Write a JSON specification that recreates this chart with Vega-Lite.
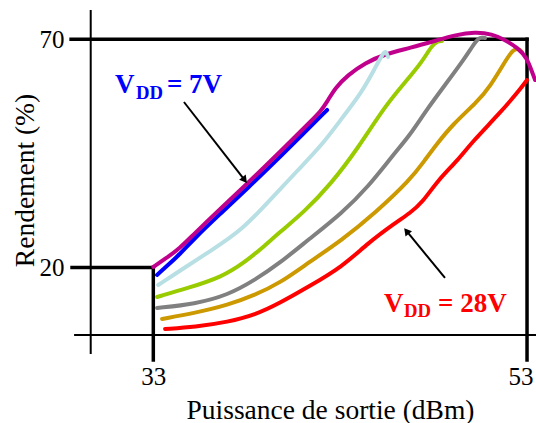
{
  "$schema": "https://vega.github.io/schema/vega-lite/v6.json",
  "width": 465,
  "height": 362,
  "autosize": {"type": "none"},
  "padding": {"left": 71, "top": 0, "right": 0, "bottom": 61},
  "background": "white",
  "config": {
    "view": {"stroke": null},
    "font": "Liberation Serif"
  },
  "datasets": {
    "curves": [
      {"serie": "VDD=28V", "p": 33.63, "r": 6.53}, {"serie": "VDD=28V", "p": 35.23, "r": 6.96},
      {"serie": "VDD=28V", "p": 37.00, "r": 8.06}, {"serie": "VDD=28V", "p": 38.44, "r": 9.59},
      {"serie": "VDD=28V", "p": 39.78, "r": 12.22}, {"serie": "VDD=28V", "p": 41.28, "r": 15.73},
      {"serie": "VDD=28V", "p": 43.10, "r": 20.11}, {"serie": "VDD=28V", "p": 44.49, "r": 25.37},
      {"serie": "VDD=28V", "p": 45.94, "r": 29.75}, {"serie": "VDD=28V", "p": 46.74, "r": 31.94},
      {"serie": "VDD=28V", "p": 47.38, "r": 34.13}, {"serie": "VDD=28V", "p": 48.24, "r": 39.17},
      {"serie": "VDD=28V", "p": 49.31, "r": 43.55}, {"serie": "VDD=28V", "p": 50.06, "r": 47.50},
      {"serie": "VDD=28V", "p": 51.45, "r": 53.41}, {"serie": "VDD=28V", "p": 52.52, "r": 58.45},
      {"serie": "VDD=28V", "p": 53.00, "r": 61.08},

      {"serie": "VDD5", "p": 33.47, "r": 8.72}, {"serie": "VDD5", "p": 35.23, "r": 10.03},
      {"serie": "VDD5", "p": 37.00, "r": 11.78}, {"serie": "VDD5", "p": 38.44, "r": 13.97},
      {"serie": "VDD5", "p": 39.78, "r": 16.60}, {"serie": "VDD5", "p": 41.28, "r": 20.99},
      {"serie": "VDD5", "p": 43.10, "r": 26.03}, {"serie": "VDD5", "p": 44.87, "r": 31.94},
      {"serie": "VDD5", "p": 46.74, "r": 39.17}, {"serie": "VDD5", "p": 47.54, "r": 43.55},
      {"serie": "VDD5", "p": 48.13, "r": 46.84}, {"serie": "VDD5", "p": 49.04, "r": 51.44},
      {"serie": "VDD5", "p": 50.27, "r": 56.04}, {"serie": "VDD5", "p": 51.02, "r": 59.55},
      {"serie": "VDD5", "p": 51.93, "r": 65.90}, {"serie": "VDD5", "p": 52.25, "r": 67.65},
      {"serie": "VDD5", "p": 52.52, "r": 68.09}, {"serie": "VDD5", "p": 52.73, "r": 67.21},

      {"serie": "VDD4", "p": 33.20, "r": 11.13}, {"serie": "VDD4", "p": 35.23, "r": 12.00},
      {"serie": "VDD4", "p": 37.00, "r": 13.97}, {"serie": "VDD4", "p": 38.44, "r": 17.26},
      {"serie": "VDD4", "p": 39.78, "r": 20.99}, {"serie": "VDD4", "p": 41.28, "r": 26.03},
      {"serie": "VDD4", "p": 43.10, "r": 31.94}, {"serie": "VDD4", "p": 44.49, "r": 37.64},
      {"serie": "VDD4", "p": 45.83, "r": 44.65}, {"serie": "VDD4", "p": 46.74, "r": 49.03},
      {"serie": "VDD4", "p": 47.54, "r": 54.07}, {"serie": "VDD4", "p": 48.61, "r": 59.99},
      {"serie": "VDD4", "p": 49.68, "r": 65.90}, {"serie": "VDD4", "p": 50.22, "r": 69.41},
      {"serie": "VDD4", "p": 50.49, "r": 70.50}, {"serie": "VDD4", "p": 50.75, "r": 70.28},

      {"serie": "VDD3", "p": 33.20, "r": 13.54}, {"serie": "VDD3", "p": 34.86, "r": 15.51},
      {"serie": "VDD3", "p": 36.68, "r": 17.92}, {"serie": "VDD3", "p": 37.91, "r": 21.21},
      {"serie": "VDD3", "p": 38.82, "r": 24.27}, {"serie": "VDD3", "p": 39.78, "r": 27.78},
      {"serie": "VDD3", "p": 41.07, "r": 32.16}, {"serie": "VDD3", "p": 42.51, "r": 38.30},
      {"serie": "VDD3", "p": 43.96, "r": 46.18}, {"serie": "VDD3", "p": 45.40, "r": 55.38},
      {"serie": "VDD3", "p": 46.58, "r": 61.08}, {"serie": "VDD3", "p": 47.38, "r": 65.03},
      {"serie": "VDD3", "p": 47.92, "r": 68.75}, {"serie": "VDD3", "p": 48.24, "r": 69.63},
      {"serie": "VDD3", "p": 48.45, "r": 69.63},

      {"serie": "VDD=7V", "p": 33.20, "r": 18.36}, {"serie": "VDD=7V", "p": 33.79, "r": 20.55},
      {"serie": "VDD=7V", "p": 34.43, "r": 22.96}, {"serie": "VDD=7V", "p": 35.12, "r": 26.03},
      {"serie": "VDD=7V", "p": 36.57, "r": 31.72}, {"serie": "VDD=7V", "p": 38.01, "r": 37.20},
      {"serie": "VDD=7V", "p": 40.05, "r": 45.31}, {"serie": "VDD=7V", "p": 41.12, "r": 49.69},
      {"serie": "VDD=7V", "p": 42.30, "r": 54.51},

      {"serie": "max", "p": 33.00, "r": 20.11}, {"serie": "max", "p": 33.63, "r": 21.86},
      {"serie": "max", "p": 34.43, "r": 24.27}, {"serie": "max", "p": 35.12, "r": 27.12},
      {"serie": "max", "p": 36.57, "r": 32.82}, {"serie": "max", "p": 38.01, "r": 38.30},
      {"serie": "max", "p": 40.05, "r": 46.40}, {"serie": "max", "p": 41.55, "r": 52.54},
      {"serie": "max", "p": 41.92, "r": 54.07}, {"serie": "max", "p": 42.30, "r": 56.26},
      {"serie": "max", "p": 42.72, "r": 59.33}, {"serie": "max", "p": 43.42, "r": 62.18},
      {"serie": "max", "p": 44.33, "r": 64.81}, {"serie": "max", "p": 45.40, "r": 66.78},
      {"serie": "max", "p": 46.74, "r": 68.09}, {"serie": "max", "p": 48.24, "r": 69.85},
      {"serie": "max", "p": 49.15, "r": 70.94}, {"serie": "max", "p": 50.22, "r": 71.60},
      {"serie": "max", "p": 51.13, "r": 71.16}, {"serie": "max", "p": 51.82, "r": 69.85},
      {"serie": "max", "p": 52.52, "r": 68.09}, {"serie": "max", "p": 53.00, "r": 65.90},
      {"serie": "max", "p": 53.27, "r": 62.83}, {"serie": "max", "p": 53.43, "r": 61.08},

      {"serie": "VDD2", "p": 33.26, "r": 16.17}, {"serie": "VDD2", "p": 34.32, "r": 19.01},
      {"serie": "VDD2", "p": 36.14, "r": 23.83}, {"serie": "VDD2", "p": 37.75, "r": 28.22},
      {"serie": "VDD2", "p": 39.25, "r": 34.79}, {"serie": "VDD2", "p": 40.69, "r": 41.14},
      {"serie": "VDD2", "p": 42.03, "r": 46.84}, {"serie": "VDD2", "p": 43.10, "r": 52.76},
      {"serie": "VDD2", "p": 44.17, "r": 58.45}, {"serie": "VDD2", "p": 44.87, "r": 63.71},
      {"serie": "VDD2", "p": 45.30, "r": 66.99}, {"serie": "VDD2", "p": 45.46, "r": 67.43},
      {"serie": "VDD2", "p": 45.56, "r": 66.12}
    ],
    "frame": [
      {"kind": "axes", "p": 29.65, "p2": 29.65, "r": 76.42, "r2": 1.05},
      {"kind": "axes", "p": 28.76, "p2": 53.48, "r": 5.21, "r2": 5.21},
      {"kind": "bounds", "p": 28.60, "p2": 53.00, "r": 70, "r2": 70},
      {"kind": "bounds", "p": 53.00, "p2": 53.00, "r": 70, "r2": -0.27},
      {"kind": "bounds", "p": 28.65, "p2": 33.00, "r": 20, "r2": 20},
      {"kind": "bounds", "p": 33.00, "p2": 33.00, "r": 20, "r2": -0.27}
    ],
    "notes": [
      {"serie": "VDD=7V", "part": "main", "t": "V", "p": 30.95, "r": 58.23},
      {"serie": "VDD=7V", "part": "sub", "t": "DD", "p": 32.07, "r": 56.81},
      {"serie": "VDD=7V", "part": "main", "t": "= 7V", "p": 33.73, "r": 58.23},
      {"serie": "VDD=28V", "part": "main", "t": "V", "p": 45.35, "r": 10.32},
      {"serie": "VDD=28V", "part": "sub", "t": "DD", "p": 46.42, "r": 9.09},
      {"serie": "VDD=28V", "part": "main", "t": "= 28V", "p": 48.24, "r": 10.32}
    ],
    "arrows": [
      {"serie": "VDD=7V", "p": 34.64, "r": 56.26, "p2": 37.85, "r2": 39.37},
      {"serie": "VDD=28V", "p": 48.61, "r": 17.70, "p2": 46.59, "r2": 27.80}
    ]
  },
  "encoding": {
    "x": {
      "field": "p",
      "type": "quantitative",
      "scale": {"domain": [28.595, 53.48], "nice": false, "zero": false},
      "axis": {
        "values": [33, 53],
        "domain": false,
        "ticks": false,
        "grid": false,
        "labelPadding": 2,
        "labelFontSize": 25,
        "labelColor": "black",
        "labelFlush": 10,
        "labelFlushOffset": 6,
        "title": "Puissance de sortie (dBm)",
        "titleFontSize": 27.5,
        "titleFontWeight": "normal",
        "titleColor": "black",
        "titleX": 259,
        "titleY": 56,
        "titleAlign": "center",
        "titleBaseline": "alphabetic"
      }
    },
    "y": {
      "field": "r",
      "type": "quantitative",
      "scale": {"domain": [-0.71, 78.61], "nice": false, "zero": false},
      "axis": {
        "values": [20, 70],
        "domain": false,
        "ticks": false,
        "grid": false,
        "labelPadding": 7,
        "labelFontSize": 25,
        "labelColor": "black",
        "title": "Rendement (%)",
        "titleFontSize": 27.5,
        "titleFontWeight": "normal",
        "titleColor": "black",
        "titleAngle": 270,
        "titleX": -38,
        "titleY": 180,
        "titleAlign": "center",
        "titleBaseline": "alphabetic"
      }
    }
  },
  "layer": [
    {
      "data": {"name": "frame"},
      "transform": [{"filter": "datum.kind === 'axes'"}],
      "mark": {"type": "rule", "color": "black", "strokeWidth": 2},
      "encoding": {"x2": {"field": "p2"}, "y2": {"field": "r2"}}
    },
    {
      "data": {"name": "frame"},
      "transform": [{"filter": "datum.kind === 'bounds'"}],
      "mark": {"type": "rule", "color": "black", "strokeWidth": 3.5, "strokeCap": "square"},
      "encoding": {"x2": {"field": "p2"}, "y2": {"field": "r2"}}
    },
    {
      "data": {"name": "curves"},
      "mark": {"type": "line", "strokeWidth": 4, "interpolate": "basis", "strokeCap": "round", "strokeJoin": "round"},
      "encoding": {
        "color": {
          "field": "serie",
          "type": "nominal",
          "scale": {
            "domain": ["VDD=28V", "VDD5", "VDD4", "VDD3", "VDD=7V", "max", "VDD2"],
            "range": ["#ff0000", "#cc9900", "#808080", "#99cc00", "#0000ff", "#c0008c", "#b7dfe4"]
          },
          "legend": null
        }
      }
    },
    {
      "data": {"name": "arrows"},
      "mark": {"type": "rule", "color": "black", "strokeWidth": 2},
      "encoding": {"x2": {"field": "p2"}, "y2": {"field": "r2"}}
    },
    {
      "data": {"name": "arrows"},
      "transform": [{"filter": "datum.serie === 'VDD=7V'"}],
      "mark": {"type": "point", "shape": "triangle", "filled": true, "color": "black", "size": 70, "angle": 142, "opacity": 1},
      "encoding": {"x": {"field": "p2", "type": "quantitative"}, "y": {"field": "r2", "type": "quantitative"}}
    },
    {
      "data": {"name": "arrows"},
      "transform": [{"filter": "datum.serie === 'VDD=28V'"}],
      "mark": {"type": "point", "shape": "triangle", "filled": true, "color": "black", "size": 70, "angle": 321, "opacity": 1},
      "encoding": {"x": {"field": "p2", "type": "quantitative"}, "y": {"field": "r2", "type": "quantitative"}}
    },
    {
      "data": {"name": "notes"},
      "transform": [{"filter": "datum.part === 'main'"}],
      "mark": {"type": "text", "align": "left", "baseline": "alphabetic", "fontSize": 27, "fontWeight": "bold", "font": "Liberation Serif"},
      "encoding": {
        "text": {"field": "t"},
        "color": {"field": "serie", "type": "nominal", "legend": null}
      }
    },
    {
      "data": {"name": "notes"},
      "transform": [{"filter": "datum.part === 'sub'"}],
      "mark": {"type": "text", "align": "left", "baseline": "alphabetic", "fontSize": 18.7, "fontWeight": "bold", "font": "Liberation Serif"},
      "encoding": {
        "text": {"field": "t"},
        "color": {"field": "serie", "type": "nominal", "legend": null}
      }
    }
  ]
}
